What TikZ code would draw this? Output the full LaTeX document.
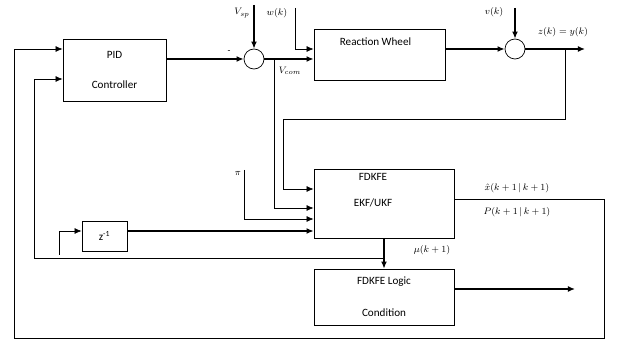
\documentclass[tikz,border=0pt]{standalone}
\usepackage{fontspec}
\setmainfont{Carlito}
\usetikzlibrary{arrows.meta, positioning, calc}

\begin{document}
\begin{tikzpicture}[x=0.03cm, y=-0.03cm,
    every node/.style={font=\fontsize{9.5pt}{11pt}\selectfont},
    blk/.style={draw, line width=0.6pt, inner sep=2pt, align=center},
    sumj/.style={draw, circle, line width=0.6pt, minimum size=0.6cm, inner sep=0pt},
    lbl/.style={font=\footnotesize, inner sep=0pt},
    arr/.style={-{Latex[length=6pt,width=5pt]}, line width=1.1pt},
    farr/.style={-{Latex[length=6pt,width=5pt]}, line width=0.6pt},
    wire/.style={line width=0.6pt},
  ]
  \useasboundingbox (0,0) rectangle (617,345);

  % blocks
  \node[blk, minimum width=3.09cm, minimum height=1.86cm] (pid) at (114.5,70) {PID\\[14pt]Controller};
  \node[sumj] (s1) at (254,59) {};
  \node[blk, minimum width=3.93cm, minimum height=1.53cm] (rw) at (379.5,54.5) {};
  \node (rwtxt) at ($(rw.north)+(-4,13)$) {Reaction Wheel};
  \node[sumj] (s2) at (515,49) {};
  \node[blk, minimum width=4.2cm, minimum height=2.07cm] (fd) at (384,203.5) {};
  \node[align=center] (fdtxt) at (373,190) {FDKFE\\[11pt]EKF/UKF};
  \node[blk, minimum width=4.2cm, minimum height=1.68cm] (lg) at (384,297) {FDKFE Logic\\[16pt]Condition};
  \node[blk, minimum width=1.35cm, minimum height=0.9cm] (zi) at (104.5,236) {z\textsuperscript{-1}};

  % wire points
  \coordinate (vsp) at (254,5);
  \coordinate (wk) at (295,8);
  \coordinate (wkc) at (295,49);
  \coordinate (br) at (274,59);
  \coordinate (vc) at (274,208);
  \coordinate (vk) at (515,8);
  \coordinate (zk) at (585,49);
  \coordinate (zbr) at (565,49);
  \coordinate (fb) at (283,119);
  \coordinate (fbin) at (283,189);
  \coordinate (pin) at (244,170);
  \coordinate (pinb) at (244,219);
  \coordinate (zo) at (127,231);
  \coordinate (zin) at (59,255);
  \coordinate (zu) at (59,231);
  \coordinate (mu) at (384,258);
  \coordinate (pl) at (34,79);
  \coordinate (lgo) at (575,289);
  \coordinate (xo) at (604,199);
  \coordinate (ol) at (604,338);
  \coordinate (pt) at (14,49);

  % forward path
  \draw[arr] (pid.east |- s1) -- (s1.west);
  \draw[arr] (vsp) -- (s1.north);
  \draw[arr] (s1.east) -- (rw.west |- s1.east);
  \draw[farr] (wk) -- (wkc) -- (rw.west |- wkc);
  \draw[arr] (rw.east |- s2.west) -- (s2.west);
  \draw[arr] (vk) -- (s2.north);
  \draw[arr] (s2.east) -- (zk);

  % filter inputs
  \draw[farr] (zbr) |- (fb) -- (fbin) -- (fd.west |- fbin);
  \draw[farr] (br) -- (vc) -- (fd.west |- vc);
  \draw[farr] (pin) -- (pinb) -- (fd.west |- pinb);
  \draw[arr] (zi.east |- zo) -- (fd.west |- zo);
  \draw[farr] (zin) -- (zu) -- (zi.west |- zu);
  \draw[arr] (fd.south) -- (lg.north);
  \draw[arr] (lg.east |- lgo) -- (lgo);

  % feedback loops
  \draw[farr] (mu) -| (pl) -- (pid.west |- pl);
  \draw[farr] (fd.east |- xo) -- (xo) -- (ol) -| (pt) -- (pid.west |- pt);

  % labels
  \node[lbl] (lvsp) at (242,13) {$V_{sp}$};
  \node[lbl] (lwk) at (277,13) {$w(k)$};
  \node[lbl] (lneg) at (229,52) {-};
  \node[lbl] (lvcom) at (290,71) {$V_{com}$};
  \node[lbl] (lvk) at (494,12) {$v(k)$};
  \node[lbl] (lzk) at (563,32) {$z(k)=y(k)$};
  \node[lbl] (lpi) at (238,173) {$\pi$};
  \node[lbl] (lxh) at (517,188) {$\hat{x}(k+1\,|\,k+1)$};
  \node[lbl] (lp) at (517,212) {$P(k+1\,|\,k+1)$};
  \node[lbl] (lmu) at (432,250) {$\mu(k+1)$};
\end{tikzpicture}
\end{document}
